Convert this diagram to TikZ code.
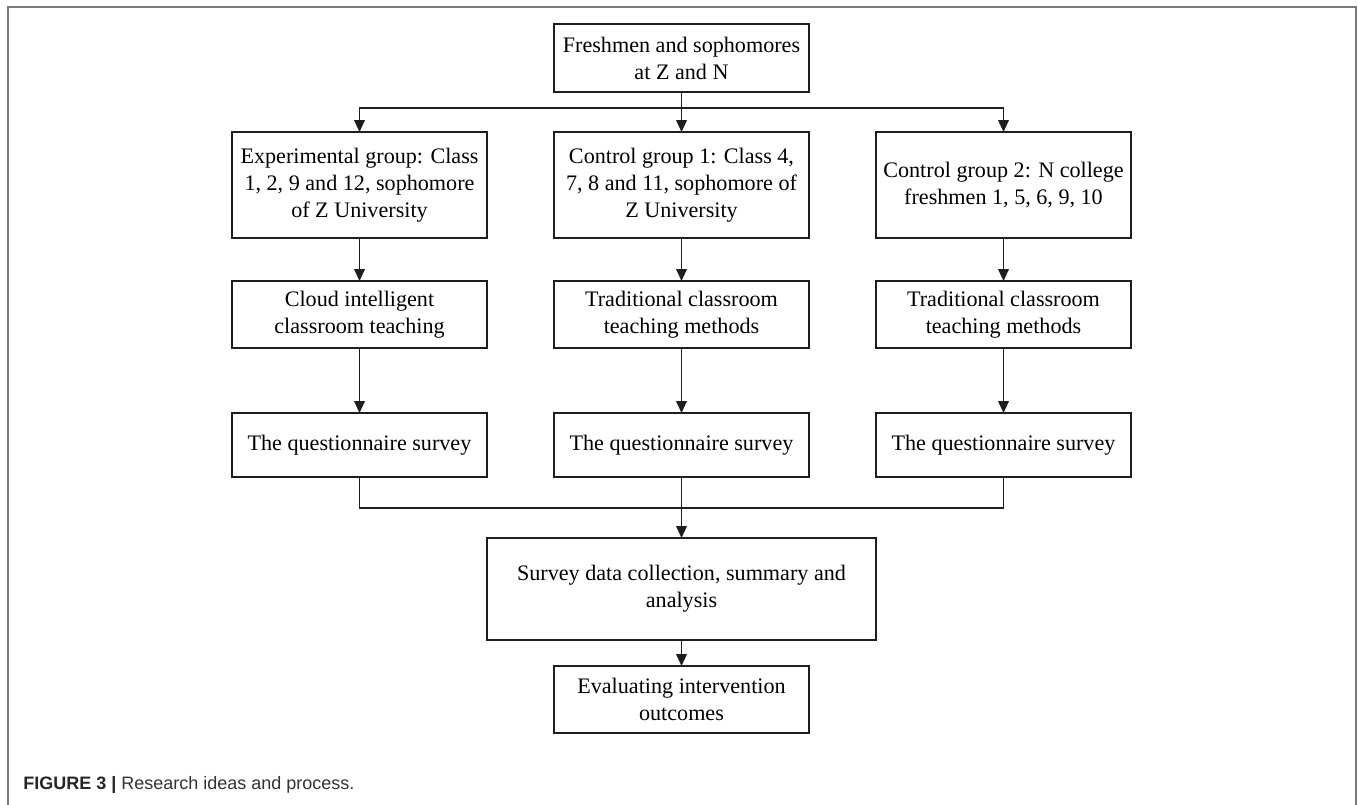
\documentclass[tikz,border=0pt]{standalone}
\usepackage{fontspec}
\setmainfont{Liberation Serif}
\newfontfamily\capfont{Liberation Sans}
\usetikzlibrary{arrows.meta}
\definecolor{framegray}{HTML}{7A7A7A}
\definecolor{linecol}{HTML}{1E1E1E}
\definecolor{captext}{HTML}{333333}
\tikzset{
  box/.style={draw=linecol, line width=1.2pt, inner sep=0pt, outer sep=0pt,
    minimum width=191.25pt, align=center, text=black,
    font=\fontsize{16.6}{20.25}\selectfont},
  conn/.style={draw=linecol, line width=1.3pt},
  arr/.style={conn, -{Triangle[length=9pt,width=8pt]}},
}
\begin{document}
\begin{tikzpicture}[x=0.75pt,y=-0.75pt]
\useasboundingbox (0,0) rectangle (1358,804);
\fill[white] (0,0) rectangle (1358,804);
\draw[framegray, line width=1.5pt] (7.5,820) -- (7.5,6.5) -- (1356,6.5) -- (1356,820);

\node[box, minimum height=51pt] (top) at (681.5,58) {Freshmen and sophomores\\at Z and N};

\node[box, minimum height=79.5pt] (a1) at (359.5,185) {Experimental group: Class\\1, 2, 9 and 12, sophomore\\of Z University};
\node[box, minimum height=79.5pt] (b1) at (681.5,185) {Control group 1: Class 4,\\7, 8 and 11, sophomore of\\Z University};
\node[box, minimum height=79.5pt] (c1) at (1003.5,185) {Control group 2: N college\\freshmen 1, 5, 6, 9, 10};

\node[box, minimum height=50.25pt] (a2) at (359.5,314.5) {Cloud intelligent\\classroom teaching};
\node[box, minimum height=50.25pt] (b2) at (681.5,314.5) {Traditional classroom\\teaching methods};
\node[box, minimum height=50.25pt] (c2) at (1003.5,314.5) {Traditional classroom\\teaching methods};

\node[box, minimum height=48pt] (a3) at (359.5,445) {The questionnaire survey};
\node[box, minimum height=48pt] (b3) at (681.5,445) {The questionnaire survey};
\node[box, minimum height=48pt] (c3) at (1003.5,445) {The questionnaire survey};

\node[box, minimum width=291.75pt, minimum height=76.5pt] (big) at (681.5,589) {Survey data collection, summary and\\analysis};

\node[box, minimum height=50.25pt] (fin) at (681.5,699.5) {Evaluating intervention\\outcomes};

\coordinate (j1) at (681.5,108);
\coordinate (j2) at (681.5,508);

\draw[conn] (top.south) -- (j1);
\draw[arr] (j1) -| (a1.north);
\draw[arr] (j1) -- (b1.north);
\draw[arr] (j1) -| (c1.north);

\draw[arr] (a1) -- (a2);
\draw[arr] (b1) -- (b2);
\draw[arr] (c1) -- (c2);
\draw[arr] (a2) -- (a3);
\draw[arr] (b2) -- (b3);
\draw[arr] (c2) -- (c3);

\draw[conn] (a3.south) |- (j2);
\draw[conn] (c3.south) |- (j2);
\draw[arr] (b3.south) -- (big.north);
\draw[arr] (big) -- (fin);

\node[anchor=base west, inner sep=0pt, font=\capfont\fontsize{13.5}{16}\selectfont] (cap) at (23,789)
  {{\bfseries\color{black!85}FIGURE 3 |} \textcolor{captext}{Research ideas and process.}};
\end{tikzpicture}
\end{document}
